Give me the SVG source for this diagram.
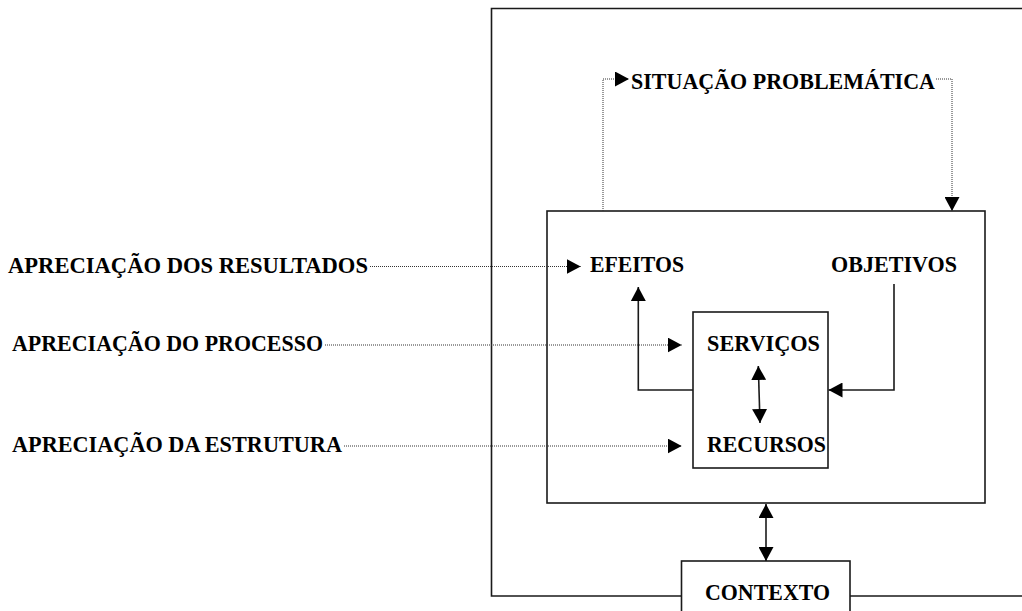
<svg xmlns="http://www.w3.org/2000/svg" width="1022" height="611" viewBox="0 0 1022 611">
  <defs>
    <style>
      .lbl { font-family: "Liberation Serif", "Times New Roman", serif; font-weight: bold; font-size: 23px; fill: #000; }
      .box { fill: #fff; stroke: #1a1a1a; stroke-width: 1.6; }
      .solid { fill: none; stroke: #1a1a1a; stroke-width: 1.6; }
      .dot { fill: none; stroke: #333; stroke-width: 1; stroke-dasharray: 1 1; }
    </style>
    <marker id="ah" viewBox="0 0 14 15" refX="14" refY="7.5" markerWidth="14" markerHeight="15" markerUnits="userSpaceOnUse" orient="auto-start-reverse">
      <path d="M0 0 L14 7.5 L0 15 Z" fill="#000" stroke="none"/>
    </marker>
  </defs>
  <rect width="1022" height="611" fill="#fff"/>

  <!-- outer environment frame -->
  <g id="frame">
    <path class="solid" d="M1022 8.5 H491.5 V596 H681.5 M850 596 H1022"/>
  </g>

  <!-- program box -->
  <g id="programa">
    <rect class="box" x="547" y="211" width="438" height="292"/>
  </g>

  <g id="efeitos">
    <text class="lbl" x="590" y="272" textLength="94" lengthAdjust="spacingAndGlyphs">EFEITOS</text>
  </g>
  <g id="objetivos">
    <text class="lbl" x="831" y="272" textLength="126" lengthAdjust="spacingAndGlyphs">OBJETIVOS</text>
  </g>

  <g id="servicos-recursos">
    <rect class="box" x="693" y="312" width="135" height="156"/>
    <text class="lbl" x="707" y="351" textLength="113" lengthAdjust="spacingAndGlyphs">SERVIÇOS</text>
    <text class="lbl" x="707" y="452" textLength="119" lengthAdjust="spacingAndGlyphs">RECURSOS</text>
  </g>

  <g id="contexto">
    <rect class="box" x="681.5" y="561" width="168.5" height="60"/>
    <text class="lbl" x="705" y="600" textLength="125" lengthAdjust="spacingAndGlyphs">CONTEXTO</text>
  </g>

  <g id="situacao">
    <text class="lbl" x="631" y="89" textLength="304" lengthAdjust="spacingAndGlyphs">SITUAÇÃO PROBLEMÁTICA</text>
  </g>

  <g id="apreciacao-resultados">
    <text class="lbl" x="8" y="273" textLength="360" lengthAdjust="spacingAndGlyphs">APRECIAÇÃO DOS RESULTADOS</text>
  </g>
  <g id="apreciacao-processo">
    <text class="lbl" x="12" y="351" textLength="311" lengthAdjust="spacingAndGlyphs">APRECIAÇÃO DO PROCESSO</text>
  </g>
  <g id="apreciacao-estrutura">
    <text class="lbl" x="12" y="452" textLength="330" lengthAdjust="spacingAndGlyphs">APRECIAÇÃO DA ESTRUTURA</text>
  </g>

  <!-- connectors -->
  <g id="connectors">
    <path class="dot" d="M370 266.5 H580.7" marker-end="url(#ah)"/>
    <path class="dot" d="M325 345 H681.7" marker-end="url(#ah)"/>
    <path class="dot" d="M344 446 H681.7" marker-end="url(#ah)"/>
    <path class="dot" d="M603 211 V79 H629" marker-end="url(#ah)"/>
    <path class="dot" d="M936 79 H952 V211" marker-end="url(#ah)"/>
    <path class="solid" d="M693 390 H638.3 V287" marker-end="url(#ah)"/>
    <path class="solid" d="M894 284 V390 H828.5" marker-end="url(#ah)"/>
    <path class="solid" d="M758.3 366 L760 423" marker-start="url(#ah)" marker-end="url(#ah)"/>
    <path class="solid" d="M766 504 V561" marker-start="url(#ah)" marker-end="url(#ah)"/>
  </g>
</svg>
